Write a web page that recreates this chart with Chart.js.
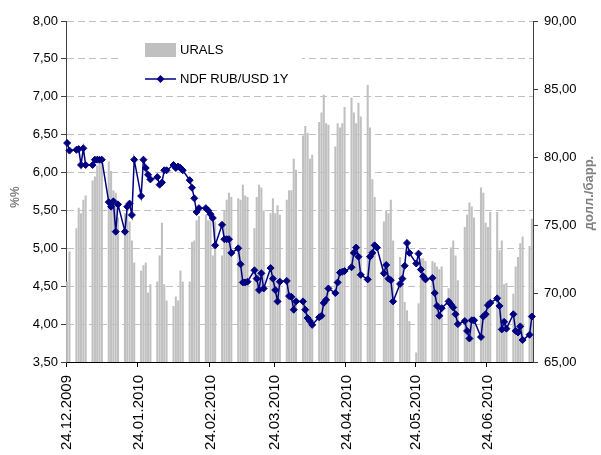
<!DOCTYPE html>
<html>
<head>
<meta charset="utf-8">
<script src="https://cdn.jsdelivr.net/npm/chart.js@4.4.1/dist/chart.umd.min.js"></script>
<style>
  html, body { margin: 0; padding: 0; background: #fff; }
  #wrap { width: 601px; height: 455px; }
</style>
</head>
<body>
<div id="wrap"><canvas id="chart" width="601" height="455"></canvas></div>
<script>
// calendar span of the axis (daily categories, weekends empty)
const firstDay = [2009, 11, 24];
const dayCount = 202;

const tickLabels = ['24.12.2009', '24.01.2010', '24.02.2010', '24.03.2010',
                    '24.04.2010', '24.05.2010', '24.06.2010'];

// URALS, USD/bbl, one value per weekday starting 24.12.2009
const urals = [
  70.9, 73.1,
  74.8, 76.3, 75.9, 76.9, 77.2,
  78.3, 78.6, 79.4, 79.8, 79.7,
  79.7, 79.0, 77.6, 77.4, 75.6,
  75.9, 75.9, 75.3, 73.9, 72.3,
  71.7, 72.1, 72.3, 70.1, 70.7,
  70.9, 72.8, 75.2, 70.7, 69.5,
  69.1, 69.8, 69.5, 71.7, 70.9,
  70.9, 73.8, 73.9, 75.4, 75.7,
  75.8, 75.4, 75.6, 72.8, 75.3,
  72.8, 76.1, 76.9, 77.4, 77.1,
  77.0, 76.9, 78.0, 77.2, 77.1,
  74.8, 77.1, 78.0, 77.8, 76.1,
  75.9, 77.0, 75.9, 76.5, 75.8,
  76.9, 77.6, 77.6, 79.9, 79.1,
  81.6, 82.3, 81.8, 79.9, 80.2,
  82.6, 83.3, 84.6, 82.5, 82.4,
  80.8, 82.5, 82.2, 82.5, 83.7,
  84.4, 83.3, 82.5, 84.0, 83.0,
  85.3, 82.2, 78.4, 77.1, null,
  75.3, 76.1, 75.9, 76.9, 73.9,
  72.7, 72.0, 69.4, 68.8, 68.0,
  65.7, 69.3, 72.6, 72.6, 72.4,
  72.4, 72.3, 72.0, 71.8, 72.0,
  70.4, 73.4, 73.9, 72.8, 71.0,
  74.9, 75.8, 76.7, 76.4, 75.6,
  77.8, 77.4, 75.2, 74.9, 76.0,
  76.0, 73.2, 73.9, 70.7, 70.8,
  70.0, 72.0, 72.7, 73.7, 74.2,
  73.5, 75.5
];

// NDF RUB/USD 1Y, %, one value per weekday starting 24.12.2009
const ndf = [
  6.39, 6.29,
  6.30, 6.31, 6.10, 6.32, 6.10,
  6.10, 6.17, 6.17, 6.17, 6.17,
  5.61, 5.55, 5.62, 5.22, 5.58,
  5.22, 5.55, 5.59, 5.44, 6.17,
  5.69, 6.17, 6.06, 5.97, 5.91,
  5.94, 5.84, 5.87, 6.03, 6.03,
  6.10, 6.06, 6.08, 6.06, 6.03,
  5.90, 5.80, 5.66, 5.48, 5.53,
  5.53, 5.50, 5.45, 5.40, 5.04,
  5.31, 5.12, 5.12, 5.12, 4.94,
  5.00, 4.79, 4.55, 4.55, 4.56,
  4.71, 4.60, 4.45, 4.67, 4.47,
  4.74, 4.60, 4.45, 4.30, 4.56,
  4.57, 4.37, 4.36, 4.19, 4.30,
  4.30, 4.19, 4.08, 4.04, 3.99,
  4.09, 4.11, 4.28, 4.32, 4.47,
  4.41, 4.55, 4.68, 4.69, 4.70,
  4.75, 4.94, 5.01, 4.89, 4.65,
  4.59, 4.89, 4.94, 5.04, 5.01,
  4.67, 4.78, 4.60, 4.58, 4.30,
  4.53, 4.60, 4.77, 5.07, 4.94,
  4.80, 4.93, 4.72, 4.63, 4.59,
  4.61, 4.41, 4.24, 4.11, 4.21,
  4.30, 4.26, 4.22, 4.13, 4.00,
  4.04, 3.91, 3.81, 4.05, 4.05,
  3.83, 4.10, 4.13, 4.25, 4.28,
  4.34, 4.24, 3.93, 4.03, 3.94,
  4.13, 3.91, 3.89, 3.97, 3.79,
  3.86, 4.10
];

function pad(n) { return n < 10 ? '0' + n : '' + n; }

// build daily categories and spread weekday values over them
const categories = [];
const uralsDaily = [];
const ndfDaily = [];
let k = 0;
const t0 = Date.UTC(firstDay[0], firstDay[1], firstDay[2]);
for (let i = 0; i < dayCount; i++) {
  const d = new Date(t0 + i * 86400000);
  categories.push(pad(d.getUTCDate()) + '.' + pad(d.getUTCMonth() + 1) + '.' + d.getUTCFullYear());
  const wd = d.getUTCDay();
  if (wd === 0 || wd === 6) {
    uralsDaily.push(null);
    ndfDaily.push(null);
  } else {
    uralsDaily.push(urals[k]);
    ndfDaily.push(ndf[k]);
    k++;
  }
}

const FONT = '"Liberation Sans", Arial, sans-serif';
const comma = v => v.toFixed(2).replace('.', ',');

const overlay = {
  id: 'overlay',
  afterDraw(chart) {
    const ctx = chart.ctx;
    ctx.save();
    // axis titles
    ctx.fillStyle = '#808080';
    ctx.font = 'bold 12px ' + FONT;
    ctx.textAlign = 'center';
    ctx.textBaseline = 'middle';
    ctx.save();
    ctx.translate(16, 197);
    ctx.rotate(-Math.PI / 2);
    ctx.fillText('%%', 0, 0);
    ctx.restore();
    ctx.save();
    ctx.font = 'bold 13px ' + FONT;
    ctx.translate(589, 193);
    ctx.rotate(-Math.PI / 2);
    ctx.fillText('долл./барр.', 0, 0);
    ctx.restore();

    // legend
    ctx.fillStyle = '#ffffff';
    ctx.fillRect(122, 30, 180, 60);
    ctx.fillStyle = '#c0c0c0';
    ctx.fillRect(145, 43, 31, 14);
    ctx.strokeStyle = '#000080';
    ctx.lineWidth = 1.5;
    ctx.beginPath();
    ctx.moveTo(145, 79);
    ctx.lineTo(176, 79);
    ctx.stroke();
    ctx.fillStyle = '#000080';
    ctx.beginPath();
    ctx.moveTo(160.5, 75);
    ctx.lineTo(164.5, 79);
    ctx.lineTo(160.5, 83);
    ctx.lineTo(156.5, 79);
    ctx.closePath();
    ctx.fill();
    ctx.fillStyle = '#000';
    ctx.font = '13px ' + FONT;
    ctx.textAlign = 'left';
    ctx.fillText('URALS', 180, 50);
    ctx.fillText('NDF RUB/USD 1Y', 180, 79);
    ctx.restore();
  }
};

new Chart(document.getElementById('chart'), {
  data: {
    labels: categories,
    datasets: [
      {
        type: 'line',
        label: 'NDF RUB/USD 1Y',
        data: ndfDaily,
        yAxisID: 'y',
        borderColor: '#000080',
        backgroundColor: '#000080',
        borderWidth: 1.5,
        pointStyle: 'rectRot',
        pointRadius: 3.5,
        pointBorderWidth: 1,
        tension: 0,
        spanGaps: true,
        order: 0
      },
      {
        type: 'bar',
        label: 'URALS',
        data: uralsDaily,
        yAxisID: 'y1',
        backgroundColor: '#c0c0c0',
        borderWidth: 0,
        barPercentage: 1,
        categoryPercentage: 0.9,
        order: 1
      }
    ]
  },
  options: {
    responsive: false,
    animation: false,
    layout: { padding: { top: 21, left: 0, right: 0, bottom: 0 } },
    plugins: {
      legend: { display: false },
      tooltip: { enabled: false }
    },
    scales: {
      x: {
        type: 'category',
        offset: true,
        afterFit: s => { s.height = 93; },
        grid: {
          offset: true,
          drawOnChartArea: false,
          tickLength: 5,
          tickColor: c => tickLabels.includes(categories[c.index]) ? '#000' : 'rgba(0,0,0,0)'
        },
        border: { color: '#000', width: 1 },
        ticks: {
          autoSkip: false,
          maxRotation: 90,
          minRotation: 90,
          padding: 8,
          color: '#000',
          font: { family: FONT, size: 15 },
          callback: (v, i) => tickLabels.includes(categories[i]) ? categories[i] : ''
        }
      },
      y: {
        position: 'left',
        min: 3.5,
        max: 8,
        afterFit: s => { s.width = 66; },
        ticks: {
          stepSize: 0.5,
          color: '#000',
          padding: 3,
          font: { family: FONT, size: 13 },
          callback: v => comma(v)
        },
        grid: {
          color: '#c0c0c0',
          tickColor: '#404040',
          tickLength: 5,
          tickBorderDash: []
        },
        border: { color: '#404040', dash: [7, 4] }
      },
      y1: {
        position: 'right',
        min: 65,
        max: 90,
        afterFit: s => { s.width = 68; },
        ticks: {
          stepSize: 5,
          color: '#000',
          padding: 6,
          font: { family: FONT, size: 13 },
          callback: v => comma(v)
        },
        grid: {
          drawOnChartArea: false,
          tickColor: '#404040',
          tickLength: 5
        },
        border: { color: '#404040' }
      }
    }
  },
  plugins: [overlay]
});
</script>
</body>
</html>
